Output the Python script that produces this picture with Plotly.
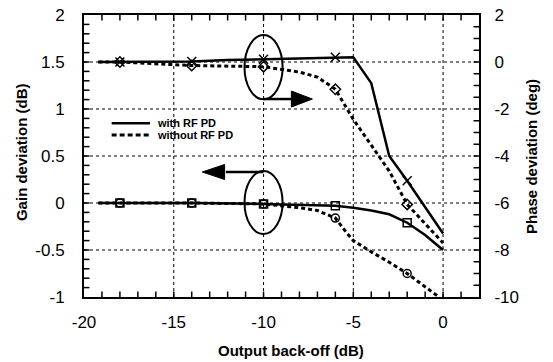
import plotly.graph_objects as go

# ---------------- data ----------------
marker_backoff = [-18, -14, -10, -6, -2]

phase_with_x = [-19.2, -18, -14, -12, -10, -6, -5, -4, -3, -2, 0]
phase_with_y = [0.0, 0.0, 0.02, 0.08, 0.12, 0.2, 0.2, -0.9, -4.0, -5.05, -7.3]

phase_without_x = [-19.2, -18, -14, -10, -8, -7, -6, -5.4, -5, -4, -3, -2, -1, 0]
phase_without_y = [0.0, 0.0, -0.15, -0.2, -0.43, -0.64, -1.16, -1.94, -2.44, -3.54, -4.64, -6.06, -6.9, -7.7]

gain_with_x = [-19.2, -18, -14, -10, -6, -5, -4, -3, -2, -1, 0]
gain_with_y = [0.0, 0.0, 0.0, -0.01, -0.03, -0.05, -0.08, -0.12, -0.21, -0.34, -0.5]

gain_without_x = [-19.2, -18, -14, -10, -8, -7, -6, -5.4, -5, -4, -3, -2, -1, -0.3]
gain_without_y = [0.0, 0.0, 0.0, -0.01, -0.05, -0.08, -0.16, -0.31, -0.4, -0.52, -0.63, -0.75, -0.89, -0.99]

x_ticks = [-20, -15, -10, -5, 0]
x_ticktext = ["-20", "-15", "-10", "-5", "0"]
gain_ticks = [2, 1.5, 1, 0.5, 0, -0.5, -1]
gain_ticktext = ["2", "1.5", "1", "0.5", "0", "-0.5", "-1"]
phase_ticks = [2, 0, -2, -4, -6, -8, -10]
phase_ticktext = ["2", "0", "-2", "-4", "-6", "-8", "-10"]

legend_labels = ["with RF PD", "without RF PD"]

FONT = "Liberation Sans, Arial, Helvetica, sans-serif"

X_RANGE = [-20, 2]
GAIN_RANGE = [-1, 2]
PHASE_RANGE = [-10, 2]

# minor tick positions (axis decoration)
x_minor = list(range(-20, 3))
gain_minor = [round(-1 + 0.1 * i, 2) for i in range(31)]
phase_minor = [round(-10 + 0.5 * i, 2) for i in range(25)]

fig = go.Figure()

def add_series(xs, ys, axis, dash, width, symbol, msize):
    fig.add_trace(go.Scatter(
        x=xs, y=ys, yaxis=axis, mode="lines",
        line=dict(color="black", width=width, dash=dash),
        showlegend=False))
    mx = [x for x in xs if x in marker_backoff]
    my = [y for x, y in zip(xs, ys) if x in marker_backoff]
    fig.add_trace(go.Scatter(
        x=mx, y=my, yaxis=axis, mode="markers",
        marker=dict(symbol=symbol, size=msize, color="black",
                    line=dict(color="black", width=1.5)),
        showlegend=False))

add_series(phase_with_x, phase_with_y, "y2", "solid", 2.5, "x-thin-open", 9)
add_series(phase_without_x, phase_without_y, "y2", "4px,3px", 3, "diamond-open", 8)
add_series(gain_with_x, gain_with_y, "y", "solid", 2.5, "square-open", 8)
add_series(gain_without_x, gain_without_y, "y", "4px,3px", 3, "circle-open", 8)

# ------------- grid (dotted, at the labelled ticks) -------------
shapes = []
for v in x_ticks[1:]:
    shapes.append(dict(type="line", xref="x", yref="paper", x0=v, x1=v, y0=0, y1=1,
                       layer="below", line=dict(color="black", width=1, dash="dot")))
for v in gain_ticks[1:-1]:
    shapes.append(dict(type="line", xref="paper", yref="y", x0=0, x1=1, y0=v, y1=v,
                       layer="below", line=dict(color="black", width=1, dash="dot")))

# ------------- inward tick marks (≈5 px, expressed in axis units) -------------
plot_w, plot_h = 395.0, 282.0
tl_x = 5.5 * (X_RANGE[1] - X_RANGE[0]) / plot_w
tl_gain = 5.5 * (GAIN_RANGE[1] - GAIN_RANGE[0]) / plot_h
tick_line = dict(color="black", width=1.5)
for v in x_minor[1:-1]:
    shapes.append(dict(type="line", xref="x", yref="y", x0=v, x1=v,
                       y0=GAIN_RANGE[0], y1=GAIN_RANGE[0] + tl_gain, line=tick_line))
    shapes.append(dict(type="line", xref="x", yref="y", x0=v, x1=v,
                       y0=GAIN_RANGE[1], y1=GAIN_RANGE[1] - tl_gain, line=tick_line))
for v in gain_minor[1:-1]:
    shapes.append(dict(type="line", xref="x", yref="y", x0=X_RANGE[0], x1=X_RANGE[0] + tl_x,
                       y0=v, y1=v, line=tick_line))
for v in phase_minor[1:-1]:
    shapes.append(dict(type="line", xref="x", yref="y2", x0=X_RANGE[1], x1=X_RANGE[1] - tl_x,
                       y0=v, y1=v, line=tick_line))

# ------------- decorations (ellipses + arrows + legend) -------------
shapes += [
    dict(type="circle", xref="x", yref="y", x0=-11.06, x1=-8.94, y0=1.103, y1=1.787,
         line=dict(color="black", width=2)),
    dict(type="circle", xref="x", yref="y", x0=-11.06, x1=-8.94, y0=-0.33, y1=0.34,
         line=dict(color="black", width=2)),
    dict(type="line", xref="x", yref="y", x0=-10, x1=-8.39, y0=1.106, y1=1.106,
         line=dict(color="black", width=2.5)),
    dict(type="path", xref="x", yref="y",
         path="M -8.45,1.191 L -7.28,1.106 L -8.45,1.021 Z",
         fillcolor="black", line=dict(color="black", width=1)),
    dict(type="line", xref="x", yref="y", x0=-10, x1=-12.1, y0=0.33, y1=0.33,
         line=dict(color="black", width=2.5)),
    dict(type="path", xref="x", yref="y",
         path="M -12.17,0.41 L -13.41,0.33 L -12.17,0.25 Z",
         fillcolor="black", line=dict(color="black", width=1)),
    dict(type="line", xref="paper", yref="paper", x0=0.070, x1=0.167, y0=0.616, y1=0.616,
         line=dict(color="black", width=2.5)),
    dict(type="line", xref="paper", yref="paper", x0=0.070, x1=0.167, y0=0.5745, y1=0.5745,
         line=dict(color="black", width=3, dash="5px,3px")),
]

annotations = [
    dict(text="<b>" + legend_labels[0] + "</b>", xref="paper", yref="paper",
         x=0.1797, y=0.616, xanchor="left", yanchor="middle", showarrow=False,
         font=dict(family=FONT, size=11, color="black")),
    dict(text="<b>" + legend_labels[1] + "</b>", xref="paper", yref="paper",
         x=0.1797, y=0.5745, xanchor="left", yanchor="middle", showarrow=False,
         font=dict(family=FONT, size=11, color="black")),
    dict(text="<b>Output back-off (dB)</b>", xref="paper", yref="paper",
         x=0.523, y=-0.188, xanchor="center", yanchor="middle", showarrow=False,
         font=dict(family=FONT, size=15, color="black")),
    dict(text="<b>Gain deviation (dB)</b>", xref="paper", yref="paper",
         x=-0.1595, y=0.514, xanchor="center", yanchor="middle", showarrow=False,
         textangle=-90, font=dict(family=FONT, size=15, color="black")),
    dict(text="<b>Phase deviation (deg)</b>", xref="paper", yref="paper",
         x=1.1316, y=0.5, xanchor="center", yanchor="middle", showarrow=False,
         textangle=-90, font=dict(family=FONT, size=15, color="black")),
]

tickfont = dict(family=FONT, size=17, color="black")
CLEAR = "rgba(0,0,0,0)"

fig.update_layout(
    width=553, height=362,
    margin=dict(l=84, r=74, t=15, b=65, autoexpand=False),
    plot_bgcolor="white",
    showlegend=False,
    shapes=shapes, annotations=annotations,
    xaxis=dict(range=X_RANGE, tickmode="array", tickvals=x_ticks, ticktext=x_ticktext,
               ticks="outside", ticklen=9, tickcolor=CLEAR,
               showline=True, linewidth=2, linecolor="black", mirror=True,
               showgrid=False, zeroline=False, tickfont=tickfont),
    yaxis=dict(range=GAIN_RANGE, tickmode="array", tickvals=gain_ticks, ticktext=gain_ticktext,
               ticks="outside", ticklen=14, tickcolor=CLEAR,
               showline=True, linewidth=2, linecolor="black",
               showgrid=False, zeroline=False, tickfont=tickfont),
    yaxis2=dict(range=PHASE_RANGE, overlaying="y", side="right", anchor="x",
                tickmode="array", tickvals=phase_ticks, ticktext=phase_ticktext,
                ticks="outside", ticklen=10, tickcolor=CLEAR,
                showline=True, linewidth=2, linecolor="black",
                showgrid=False, zeroline=False, tickfont=tickfont),
)

fig.write_html("out.html")
